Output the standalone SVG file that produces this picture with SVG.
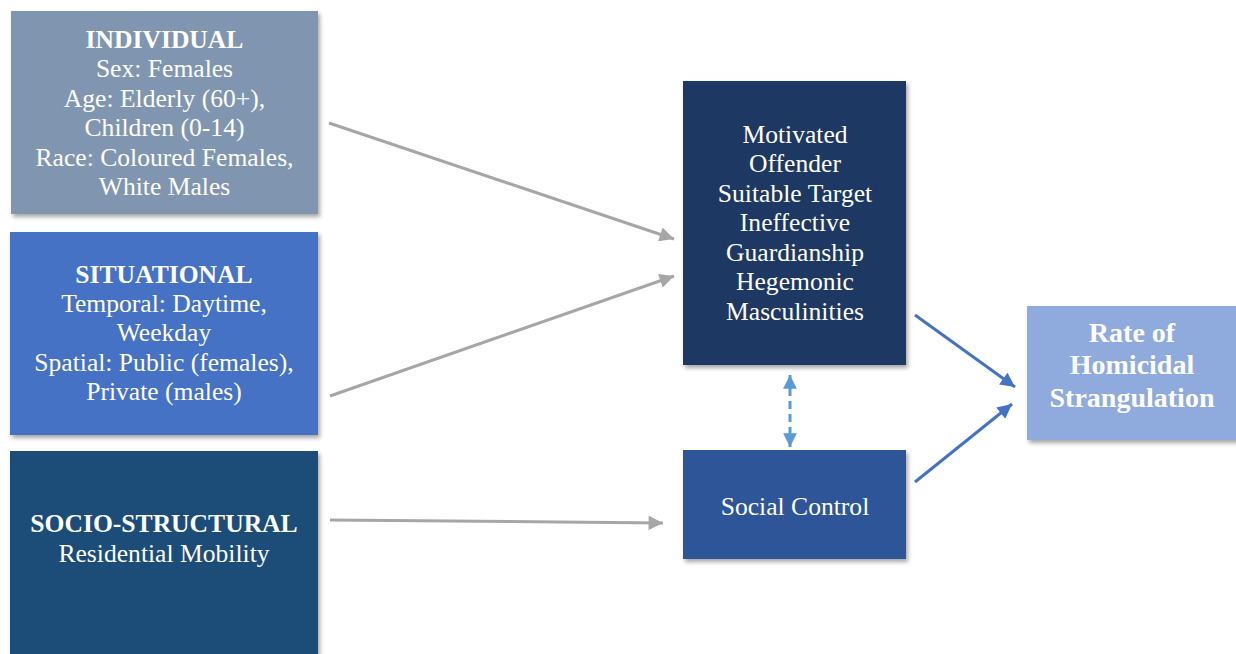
<svg xmlns="http://www.w3.org/2000/svg" width="1236" height="654" viewBox="0 0 1236 654">
  <defs>
    <filter id="shadow" x="-10%" y="-10%" width="125%" height="125%">
      <feDropShadow dx="2" dy="3" stdDeviation="2.2" flood-color="#000" flood-opacity="0.35"/>
    </filter>
    <marker id="headGray" viewBox="0 0 10 10" refX="10" refY="5" markerWidth="5.4" markerHeight="4.8" orient="auto" markerUnits="strokeWidth">
      <path d="M0,0 L10,5 L0,10 z" fill="#A6A6A6"/>
    </marker>
    <marker id="headBlue" viewBox="0 0 10 10" refX="10" refY="5" markerWidth="5.6" markerHeight="4.8" orient="auto" markerUnits="strokeWidth">
      <path d="M0,0 L10,5 L0,10 z" fill="#4472C4"/>
    </marker>
    <marker id="headDash" viewBox="0 0 10 10" refX="10" refY="5" markerWidth="5" markerHeight="4.6" orient="auto-start-reverse" markerUnits="strokeWidth">
      <path d="M0,0 L10,5 L0,10 z" fill="#5B9BD5"/>
    </marker>
  </defs>
  <style>
    .box { filter: url(#shadow); }
    text { font-family: "Liberation Serif", "Times New Roman", serif; fill: #FFFFFF; text-anchor: middle; font-size: 25.6px; }
    .b { font-weight: bold; }
    .big { font-size: 28px; font-weight: bold; }
    .gray { stroke: #A6A6A6; stroke-width: 3; fill: none; marker-end: url(#headGray); }
    .blue { stroke: #4472C4; stroke-width: 3; fill: none; marker-end: url(#headBlue); }
    .dash { stroke: #5B9BD5; stroke-width: 3; fill: none; stroke-dasharray: 8 5; marker-start: url(#headDash); marker-end: url(#headDash); }
  </style>
  <rect width="1236" height="654" fill="#FFFFFF"/>

  <g id="individual">
    <rect class="box" x="11" y="11" width="307" height="203" fill="#8096B0"/>
    <text x="164.5" y="48" class="b">INDIVIDUAL</text>
    <text x="164.5" y="77">Sex: Females</text>
    <text x="164.5" y="107">Age: Elderly (60+),</text>
    <text x="164.5" y="136">Children (0-14)</text>
    <text x="164.5" y="166">Race: Coloured Females,</text>
    <text x="164.5" y="195">White Males</text>
  </g>

  <g id="situational">
    <rect class="box" x="10" y="232" width="308" height="203" fill="#4472C4"/>
    <text x="164" y="283" class="b">SITUATIONAL</text>
    <text x="164" y="312">Temporal: Daytime,</text>
    <text x="164" y="341">Weekday</text>
    <text x="164" y="371">Spatial: Public (females),</text>
    <text x="164" y="400">Private (males)</text>
  </g>

  <g id="socio-structural">
    <rect class="box" x="10" y="451" width="308" height="215" fill="#1F4E79"/>
    <text x="164" y="532" class="b">SOCIO-STRUCTURAL</text>
    <text x="164" y="562">Residential Mobility</text>
  </g>

  <g id="routine-activities">
    <rect class="box" x="683" y="81" width="223" height="284" fill="#1F3864"/>
    <text x="795" y="143">Motivated</text>
    <text x="795" y="172">Offender</text>
    <text x="795" y="202">Suitable Target</text>
    <text x="795" y="231">Ineffective</text>
    <text x="795" y="261">Guardianship</text>
    <text x="795" y="290">Hegemonic</text>
    <text x="795" y="320">Masculinities</text>
  </g>

  <g id="social-control">
    <rect class="box" x="683" y="450" width="223" height="109" fill="#2F5597"/>
    <text x="795" y="515">Social Control</text>
  </g>

  <g id="outcome">
    <rect class="box" x="1027" y="306" width="215" height="134" fill="#8FAADC"/>
    <text x="1132" y="342" class="big">Rate of</text>
    <text x="1132" y="374" class="big">Homicidal</text>
    <text x="1132" y="407" class="big">Strangulation</text>
  </g>

  <g id="connectors">
    <line class="gray" x1="329" y1="123" x2="674" y2="239"/>
    <line class="gray" x1="330" y1="396" x2="674" y2="276"/>
    <line class="gray" x1="330" y1="520" x2="663" y2="523"/>
    <line class="blue" x1="915" y1="315" x2="1015" y2="387"/>
    <line class="blue" x1="915" y1="482" x2="1012" y2="404"/>
    <line class="dash" x1="790" y1="375" x2="790" y2="447"/>
  </g>
</svg>
